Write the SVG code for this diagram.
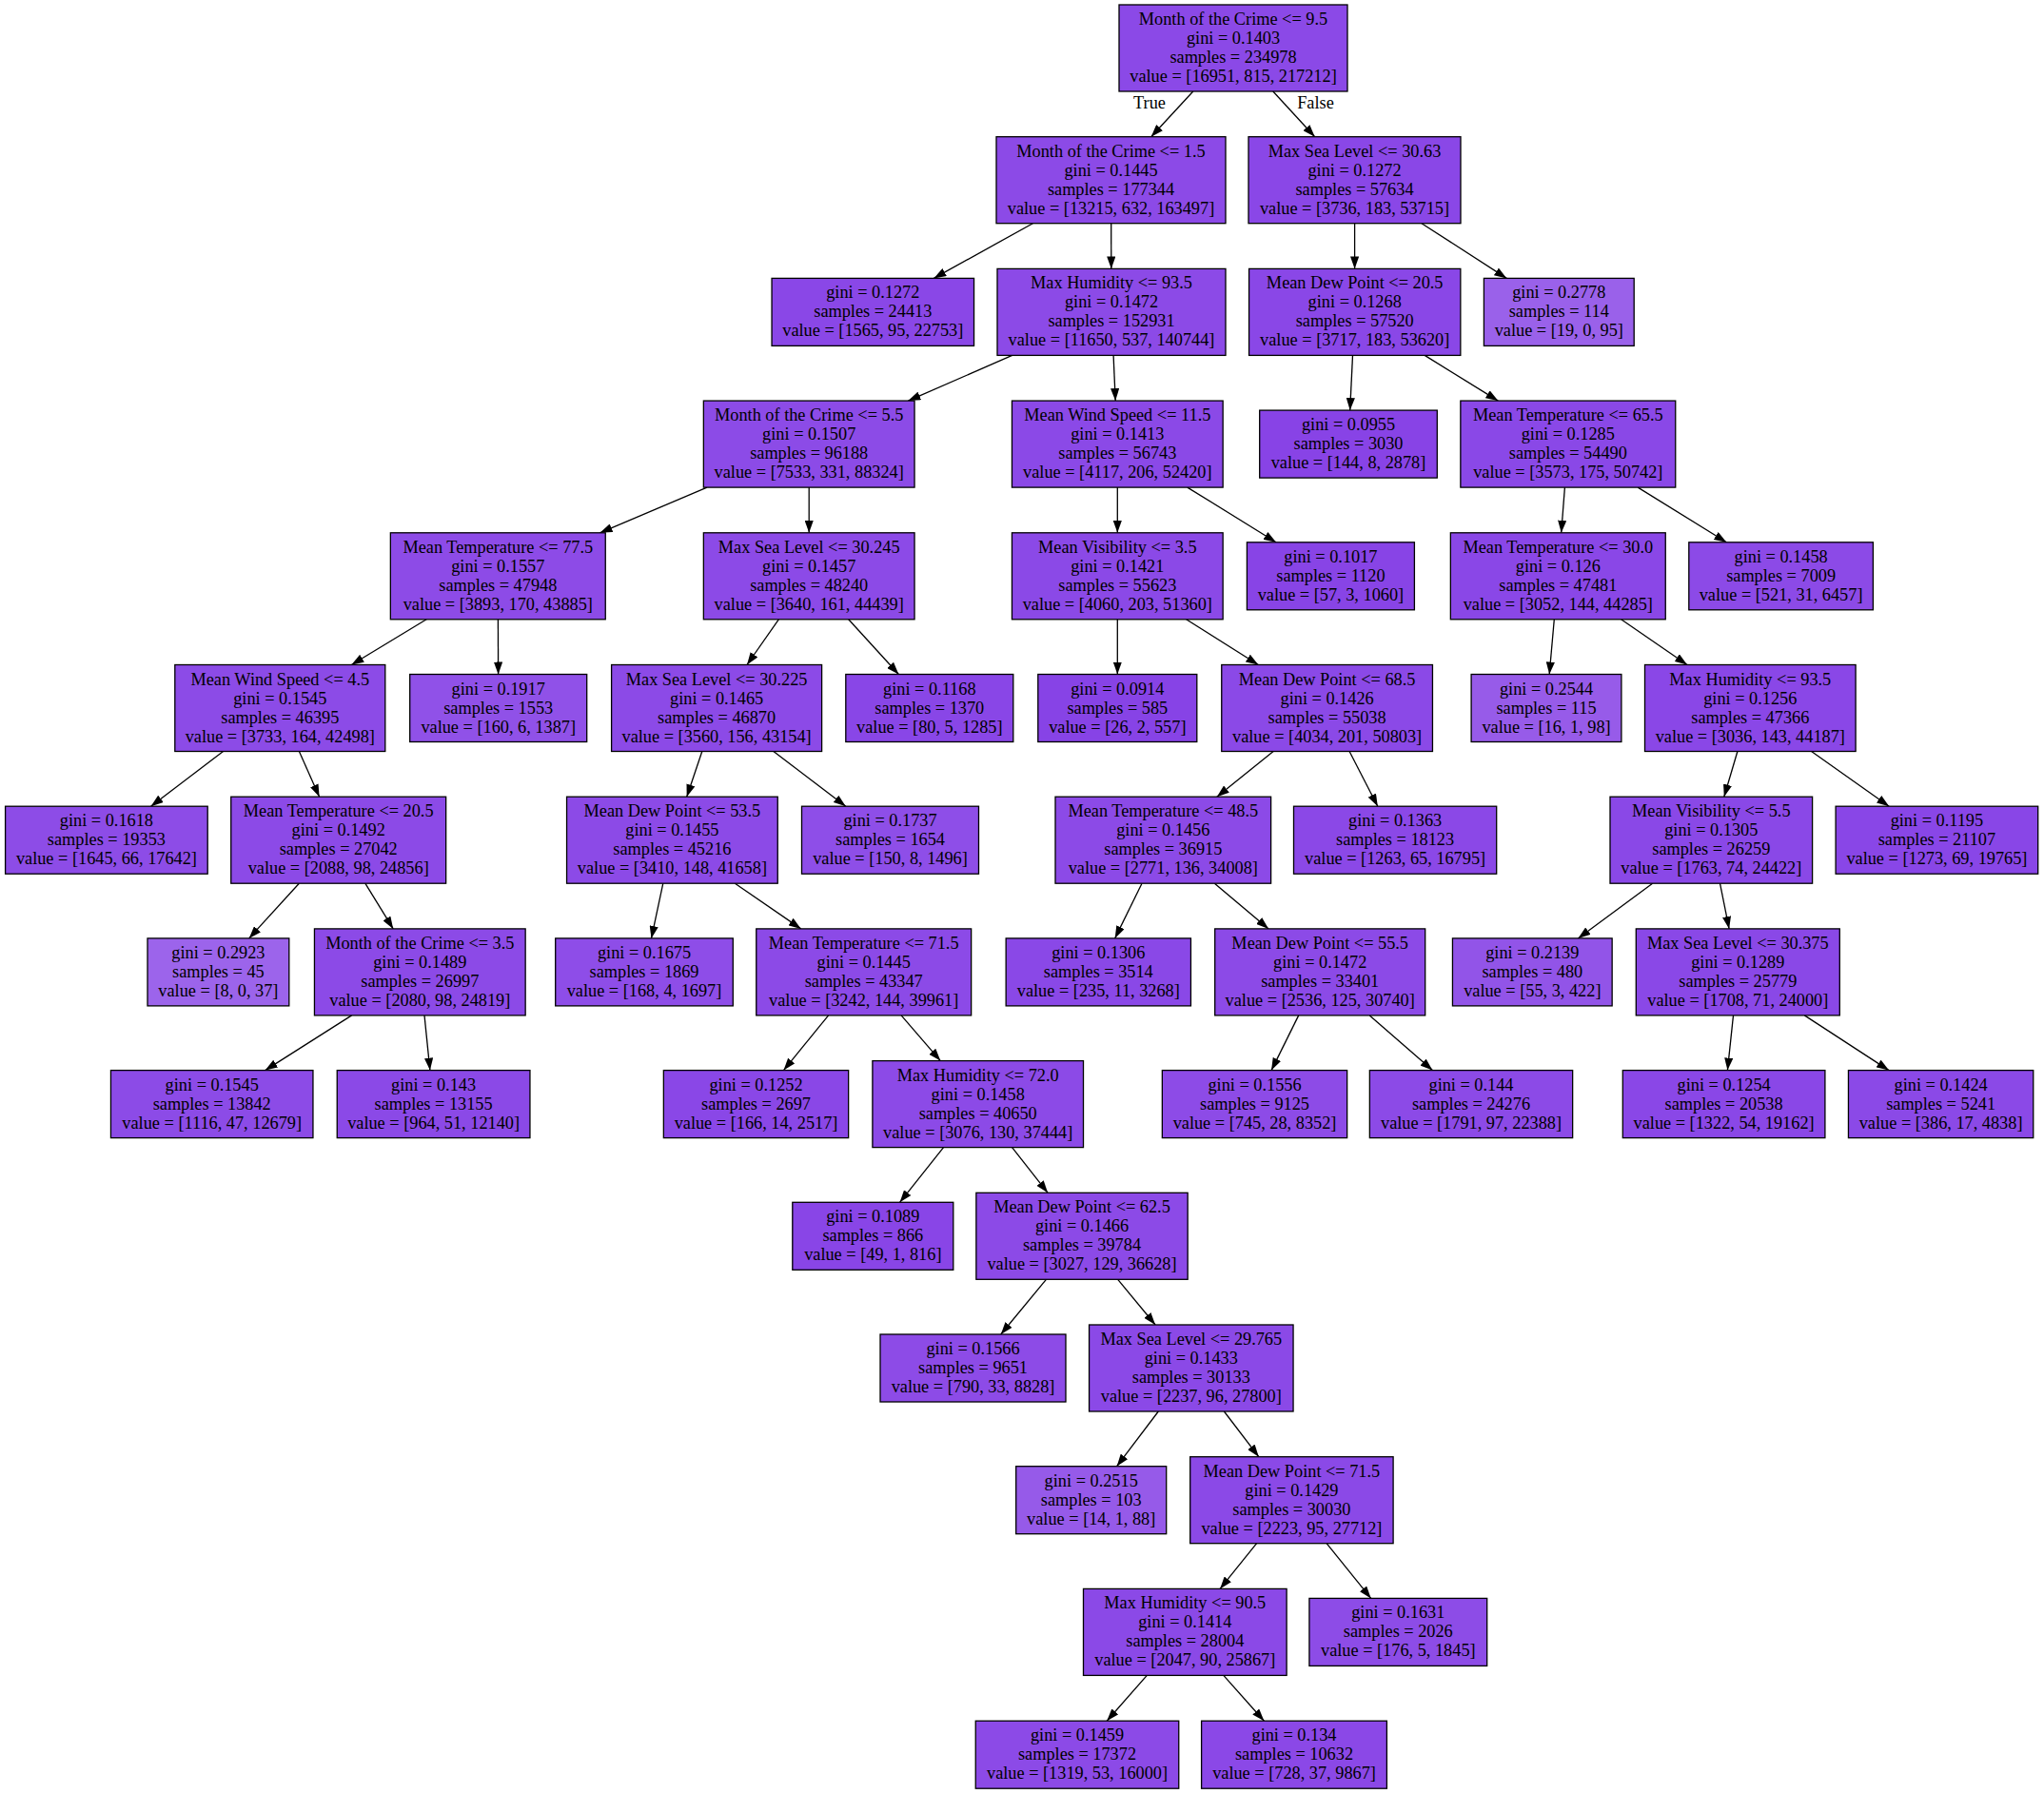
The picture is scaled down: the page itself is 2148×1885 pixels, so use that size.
<svg xmlns="http://www.w3.org/2000/svg" width="2148" height="1885" viewBox="0 0 2148 1885">
<defs>
<marker id="ah" viewBox="0 0 13 9.2" refX="13" refY="4.6" markerWidth="13" markerHeight="9.2" markerUnits="userSpaceOnUse" orient="auto"><path d="M0,0 L13,4.6 L0,9.2 z" fill="#000"/></marker>
<style>
text{font-family:"Liberation Serif","Times New Roman",serif;font-size:18.3px;fill:#000;text-anchor:middle}
rect{stroke:#000;stroke-width:1.3}
.e line{stroke:#000;stroke-width:1.3;marker-end:url(#ah)}
</style>
</defs>
<rect x="0" y="0" width="2148" height="1885" fill="#fff" style="stroke:none"/>
<g class="e" id="edges">
<line x1="1253.8" y1="96" x2="1209.7" y2="143.7"/>
<line x1="1337.8" y1="96" x2="1381.7" y2="143.7"/>
<line x1="1085.4" y1="234.7" x2="981.3" y2="292.4"/>
<line x1="1167.7" y1="234.7" x2="1167.8" y2="282.4"/>
<line x1="1423.6" y1="234.7" x2="1423.6" y2="282.4"/>
<line x1="1494.0" y1="234.7" x2="1583.3" y2="292.4"/>
<line x1="1063.7" y1="373.4" x2="954.4" y2="421.1"/>
<line x1="1170.1" y1="373.4" x2="1172.2" y2="421.1"/>
<line x1="1421.5" y1="373.4" x2="1418.7" y2="431.1"/>
<line x1="1497.2" y1="373.4" x2="1574.3" y2="421.1"/>
<line x1="743.0" y1="512.1" x2="630.5" y2="559.8"/>
<line x1="850.2" y1="512.1" x2="850.2" y2="559.8"/>
<line x1="1174.3" y1="512.1" x2="1174.3" y2="559.8"/>
<line x1="1247.8" y1="512.1" x2="1341.0" y2="569.8"/>
<line x1="1644.4" y1="512.1" x2="1640.7" y2="559.8"/>
<line x1="1721.2" y1="512.1" x2="1814.3" y2="569.8"/>
<line x1="448.2" y1="650.8" x2="369.4" y2="698.5"/>
<line x1="523.4" y1="650.8" x2="523.6" y2="708.5"/>
<line x1="818.3" y1="650.8" x2="785.0" y2="698.5"/>
<line x1="891.7" y1="650.8" x2="944.4" y2="708.5"/>
<line x1="1174.3" y1="650.8" x2="1174.3" y2="708.5"/>
<line x1="1246.6" y1="650.8" x2="1322.3" y2="698.5"/>
<line x1="1633.3" y1="650.8" x2="1628.2" y2="708.5"/>
<line x1="1703.6" y1="650.8" x2="1773.0" y2="698.5"/>
<line x1="234.5" y1="789.5" x2="158.6" y2="847.2"/>
<line x1="314.4" y1="789.5" x2="335.6" y2="837.2"/>
<line x1="737.8" y1="789.5" x2="721.7" y2="837.2"/>
<line x1="812.9" y1="789.5" x2="888.8" y2="847.2"/>
<line x1="1338.1" y1="789.5" x2="1278.8" y2="837.2"/>
<line x1="1418.1" y1="789.5" x2="1447.8" y2="847.2"/>
<line x1="1825.9" y1="789.5" x2="1811.8" y2="837.2"/>
<line x1="1903.6" y1="789.5" x2="1985.2" y2="847.2"/>
<line x1="314.3" y1="928.2" x2="261.7" y2="985.9"/>
<line x1="383.8" y1="928.2" x2="413.2" y2="975.9"/>
<line x1="696.8" y1="928.2" x2="684.5" y2="985.9"/>
<line x1="772.4" y1="928.2" x2="841.7" y2="975.9"/>
<line x1="1200.0" y1="928.2" x2="1171.7" y2="985.9"/>
<line x1="1276.4" y1="928.2" x2="1333.1" y2="975.9"/>
<line x1="1736.6" y1="928.2" x2="1658.4" y2="985.9"/>
<line x1="1807.5" y1="928.2" x2="1817.1" y2="975.9"/>
<line x1="369.6" y1="1066.9" x2="278.7" y2="1124.6"/>
<line x1="446.0" y1="1066.9" x2="451.9" y2="1124.6"/>
<line x1="870.6" y1="1066.9" x2="823.5" y2="1124.6"/>
<line x1="947.1" y1="1066.9" x2="988.3" y2="1114.6"/>
<line x1="1364.7" y1="1066.9" x2="1336.1" y2="1124.6"/>
<line x1="1439.3" y1="1066.9" x2="1505.4" y2="1124.6"/>
<line x1="1821.5" y1="1066.9" x2="1815.4" y2="1124.6"/>
<line x1="1896.3" y1="1066.9" x2="1985.0" y2="1124.6"/>
<line x1="991.5" y1="1205.6" x2="945.6" y2="1263.3"/>
<line x1="1063.6" y1="1205.6" x2="1101.1" y2="1253.3"/>
<line x1="1099.4" y1="1344.3" x2="1051.8" y2="1402"/>
<line x1="1174.7" y1="1344.3" x2="1214.1" y2="1392"/>
<line x1="1217.3" y1="1483" x2="1173.6" y2="1540.7"/>
<line x1="1286.4" y1="1483" x2="1322.8" y2="1530.7"/>
<line x1="1320.6" y1="1621.7" x2="1282.1" y2="1669.4"/>
<line x1="1394.1" y1="1621.7" x2="1440.7" y2="1679.4"/>
<line x1="1205.3" y1="1760.4" x2="1163.2" y2="1808.2"/>
<line x1="1285.8" y1="1760.4" x2="1328.4" y2="1808.2"/>
<text x="1208" y="114">True</text>
<text x="1382.5" y="114">False</text>
</g>
<g id="n0" transform="translate(1296,50.5)"><rect x="-120" y="-45.5" width="240" height="91" fill="#8b49e7"/><text y="-24.5">Month of the Crime &lt;= 9.5</text><text y="-4.5">gini = 0.1403</text><text y="15.5">samples = 234978</text><text y="35.5">value = [16951, 815, 217212]</text></g>
<g id="n1" transform="translate(1167.5,189.2)"><rect x="-120.5" y="-45.5" width="241" height="91" fill="#8c4ae7"/><text y="-24.5">Month of the Crime &lt;= 1.5</text><text y="-4.5">gini = 0.1445</text><text y="15.5">samples = 177344</text><text y="35.5">value = [13215, 632, 163497]</text></g>
<g id="n2" transform="translate(1423.5,189.2)"><rect x="-111.5" y="-45.5" width="223" height="91" fill="#8a47e7"/><text y="-24.5">Max Sea Level &lt;= 30.63</text><text y="-4.5">gini = 0.1272</text><text y="15.5">samples = 57634</text><text y="35.5">value = [3736, 183, 53715]</text></g>
<g id="n3" transform="translate(917.3,327.9)"><rect x="-106.25" y="-35.5" width="212.5" height="71" fill="#8a47e7"/><text y="-14.5">gini = 0.1272</text><text y="5.5">samples = 24413</text><text y="25.5">value = [1565, 95, 22753]</text></g>
<g id="n4" transform="translate(1168,327.9)"><rect x="-120" y="-45.5" width="240" height="91" fill="#8c4ae7"/><text y="-24.5">Max Humidity &lt;= 93.5</text><text y="-4.5">gini = 0.1472</text><text y="15.5">samples = 152931</text><text y="35.5">value = [11650, 537, 140744]</text></g>
<g id="n5" transform="translate(1423.7,327.9)"><rect x="-111.15" y="-45.5" width="222.3" height="91" fill="#8a47e7"/><text y="-24.5">Mean Dew Point &lt;= 20.5</text><text y="-4.5">gini = 0.1268</text><text y="15.5">samples = 57520</text><text y="35.5">value = [3717, 183, 53620]</text></g>
<g id="n6" transform="translate(1638.3,327.9)"><rect x="-78.9" y="-35.5" width="157.8" height="71" fill="#9a61ea"/><text y="-14.5">gini = 0.2778</text><text y="5.5">samples = 114</text><text y="25.5">value = [19, 0, 95]</text></g>
<g id="n7" transform="translate(850.2,466.6)"><rect x="-110.85" y="-45.5" width="221.7" height="91" fill="#8c4be7"/><text y="-24.5">Month of the Crime &lt;= 5.5</text><text y="-4.5">gini = 0.1507</text><text y="15.5">samples = 96188</text><text y="35.5">value = [7533, 331, 88324]</text></g>
<g id="n8" transform="translate(1174.3,466.6)"><rect x="-110.85" y="-45.5" width="221.7" height="91" fill="#8b49e7"/><text y="-24.5">Mean Wind Speed &lt;= 11.5</text><text y="-4.5">gini = 0.1413</text><text y="15.5">samples = 56743</text><text y="35.5">value = [4117, 206, 52420]</text></g>
<g id="n9" transform="translate(1417,466.6)"><rect x="-93.3" y="-35.5" width="186.6" height="71" fill="#8843e6"/><text y="-14.5">gini = 0.0955</text><text y="5.5">samples = 3030</text><text y="25.5">value = [144, 8, 2878]</text></g>
<g id="n10" transform="translate(1647.8,466.6)"><rect x="-112.95" y="-45.5" width="225.9" height="91" fill="#8a48e7"/><text y="-24.5">Mean Temperature &lt;= 65.5</text><text y="-4.5">gini = 0.1285</text><text y="15.5">samples = 54490</text><text y="35.5">value = [3573, 175, 50742]</text></g>
<g id="n11" transform="translate(523.3,605.3)"><rect x="-112.95" y="-45.5" width="225.9" height="91" fill="#8d4be7"/><text y="-24.5">Mean Temperature &lt;= 77.5</text><text y="-4.5">gini = 0.1557</text><text y="15.5">samples = 47948</text><text y="35.5">value = [3893, 170, 43885]</text></g>
<g id="n12" transform="translate(850.2,605.3)"><rect x="-110.85" y="-45.5" width="221.7" height="91" fill="#8c4ae7"/><text y="-24.5">Max Sea Level &lt;= 30.245</text><text y="-4.5">gini = 0.1457</text><text y="15.5">samples = 48240</text><text y="35.5">value = [3640, 161, 44439]</text></g>
<g id="n13" transform="translate(1174.3,605.3)"><rect x="-110.85" y="-45.5" width="221.7" height="91" fill="#8b49e7"/><text y="-24.5">Mean Visibility &lt;= 3.5</text><text y="-4.5">gini = 0.1421</text><text y="15.5">samples = 55623</text><text y="35.5">value = [4060, 203, 51360]</text></g>
<g id="n14" transform="translate(1398.4,605.3)"><rect x="-88" y="-35.5" width="176" height="71" fill="#8844e6"/><text y="-14.5">gini = 0.1017</text><text y="5.5">samples = 1120</text><text y="25.5">value = [57, 3, 1060]</text></g>
<g id="n15" transform="translate(1637.3,605.3)"><rect x="-112.95" y="-45.5" width="225.9" height="91" fill="#8a47e7"/><text y="-24.5">Mean Temperature &lt;= 30.0</text><text y="-4.5">gini = 0.126</text><text y="15.5">samples = 47481</text><text y="35.5">value = [3052, 144, 44285]</text></g>
<g id="n16" transform="translate(1871.6,605.3)"><rect x="-96.8" y="-35.5" width="193.6" height="71" fill="#8c4ae7"/><text y="-14.5">gini = 0.1458</text><text y="5.5">samples = 7009</text><text y="25.5">value = [521, 31, 6457]</text></g>
<g id="n17" transform="translate(294.3,744)"><rect x="-110.5" y="-45.5" width="221" height="91" fill="#8c4be7"/><text y="-24.5">Mean Wind Speed &lt;= 4.5</text><text y="-4.5">gini = 0.1545</text><text y="15.5">samples = 46395</text><text y="35.5">value = [3733, 164, 42498]</text></g>
<g id="n18" transform="translate(523.7,744)"><rect x="-93" y="-35.5" width="186" height="71" fill="#9051e8"/><text y="-14.5">gini = 0.1917</text><text y="5.5">samples = 1553</text><text y="25.5">value = [160, 6, 1387]</text></g>
<g id="n19" transform="translate(753.1,744)"><rect x="-110.5" y="-45.5" width="221" height="91" fill="#8c4ae7"/><text y="-24.5">Max Sea Level &lt;= 30.225</text><text y="-4.5">gini = 0.1465</text><text y="15.5">samples = 46870</text><text y="35.5">value = [3560, 156, 43154]</text></g>
<g id="n20" transform="translate(976.8,744)"><rect x="-88" y="-35.5" width="176" height="71" fill="#8946e7"/><text y="-14.5">gini = 0.1168</text><text y="5.5">samples = 1370</text><text y="25.5">value = [80, 5, 1285]</text></g>
<g id="n21" transform="translate(1174.3,744)"><rect x="-83.5" y="-35.5" width="167" height="71" fill="#8743e6"/><text y="-14.5">gini = 0.0914</text><text y="5.5">samples = 585</text><text y="25.5">value = [26, 2, 557]</text></g>
<g id="n22" transform="translate(1394.6,744)"><rect x="-110.85" y="-45.5" width="221.7" height="91" fill="#8b49e7"/><text y="-24.5">Mean Dew Point &lt;= 68.5</text><text y="-4.5">gini = 0.1426</text><text y="15.5">samples = 55038</text><text y="35.5">value = [4034, 201, 50803]</text></g>
<g id="n23" transform="translate(1625,744)"><rect x="-78.9" y="-35.5" width="157.8" height="71" fill="#975be9"/><text y="-14.5">gini = 0.2544</text><text y="5.5">samples = 115</text><text y="25.5">value = [16, 1, 98]</text></g>
<g id="n24" transform="translate(1839.3,744)"><rect x="-110.8" y="-45.5" width="221.6" height="91" fill="#8a47e7"/><text y="-24.5">Max Humidity &lt;= 93.5</text><text y="-4.5">gini = 0.1256</text><text y="15.5">samples = 47366</text><text y="35.5">value = [3036, 143, 44187]</text></g>
<g id="n25" transform="translate(111.9,882.7)"><rect x="-106.3" y="-35.5" width="212.6" height="71" fill="#8d4ce7"/><text y="-14.5">gini = 0.1618</text><text y="5.5">samples = 19353</text><text y="25.5">value = [1645, 66, 17642]</text></g>
<g id="n26" transform="translate(355.7,882.7)"><rect x="-112.95" y="-45.5" width="225.9" height="91" fill="#8c4ae7"/><text y="-24.5">Mean Temperature &lt;= 20.5</text><text y="-4.5">gini = 0.1492</text><text y="15.5">samples = 27042</text><text y="35.5">value = [2088, 98, 24856]</text></g>
<g id="n27" transform="translate(706.4,882.7)"><rect x="-110.85" y="-45.5" width="221.7" height="91" fill="#8c4ae7"/><text y="-24.5">Mean Dew Point &lt;= 53.5</text><text y="-4.5">gini = 0.1455</text><text y="15.5">samples = 45216</text><text y="35.5">value = [3410, 148, 41658]</text></g>
<g id="n28" transform="translate(935.5,882.7)"><rect x="-93" y="-35.5" width="186" height="71" fill="#8e4ee8"/><text y="-14.5">gini = 0.1737</text><text y="5.5">samples = 1654</text><text y="25.5">value = [150, 8, 1496]</text></g>
<g id="n29" transform="translate(1222.3,882.7)"><rect x="-113.3" y="-45.5" width="226.6" height="91" fill="#8c4ae7"/><text y="-24.5">Mean Temperature &lt;= 48.5</text><text y="-4.5">gini = 0.1456</text><text y="15.5">samples = 36915</text><text y="35.5">value = [2771, 136, 34008]</text></g>
<g id="n30" transform="translate(1466.1,882.7)"><rect x="-106.6" y="-35.5" width="213.2" height="71" fill="#8b48e7"/><text y="-14.5">gini = 0.1363</text><text y="5.5">samples = 18123</text><text y="25.5">value = [1263, 65, 16795]</text></g>
<g id="n31" transform="translate(1798.3,882.7)"><rect x="-106.3" y="-45.5" width="212.6" height="91" fill="#8a48e7"/><text y="-24.5">Mean Visibility &lt;= 5.5</text><text y="-4.5">gini = 0.1305</text><text y="15.5">samples = 26259</text><text y="35.5">value = [1763, 74, 24422]</text></g>
<g id="n32" transform="translate(2035.4,882.7)"><rect x="-106.3" y="-35.5" width="212.6" height="71" fill="#8946e7"/><text y="-14.5">gini = 0.1195</text><text y="5.5">samples = 21107</text><text y="25.5">value = [1273, 69, 19765]</text></g>
<g id="n33" transform="translate(229.4,1021.4)"><rect x="-74.4" y="-35.5" width="148.8" height="71" fill="#9c64eb"/><text y="-14.5">gini = 0.2923</text><text y="5.5">samples = 45</text><text y="25.5">value = [8, 0, 37]</text></g>
<g id="n34" transform="translate(441.3,1021.4)"><rect x="-110.85" y="-45.5" width="221.7" height="91" fill="#8c4ae7"/><text y="-24.5">Month of the Crime &lt;= 3.5</text><text y="-4.5">gini = 0.1489</text><text y="15.5">samples = 26997</text><text y="35.5">value = [2080, 98, 24819]</text></g>
<g id="n35" transform="translate(677,1021.4)"><rect x="-93.3" y="-35.5" width="186.6" height="71" fill="#8e4de8"/><text y="-14.5">gini = 0.1675</text><text y="5.5">samples = 1869</text><text y="25.5">value = [168, 4, 1697]</text></g>
<g id="n36" transform="translate(907.7,1021.4)"><rect x="-112.95" y="-45.5" width="225.9" height="91" fill="#8c4ae7"/><text y="-24.5">Mean Temperature &lt;= 71.5</text><text y="-4.5">gini = 0.1445</text><text y="15.5">samples = 43347</text><text y="35.5">value = [3242, 144, 39961]</text></g>
<g id="n37" transform="translate(1154.3,1021.4)"><rect x="-97.15" y="-35.5" width="194.3" height="71" fill="#8a48e7"/><text y="-14.5">gini = 0.1306</text><text y="5.5">samples = 3514</text><text y="25.5">value = [235, 11, 3268]</text></g>
<g id="n38" transform="translate(1387.2,1021.4)"><rect x="-110.5" y="-45.5" width="221" height="91" fill="#8c4ae7"/><text y="-24.5">Mean Dew Point &lt;= 55.5</text><text y="-4.5">gini = 0.1472</text><text y="15.5">samples = 33401</text><text y="35.5">value = [2536, 125, 30740]</text></g>
<g id="n39" transform="translate(1610.3,1021.4)"><rect x="-83.85" y="-35.5" width="167.7" height="71" fill="#9254e8"/><text y="-14.5">gini = 0.2139</text><text y="5.5">samples = 480</text><text y="25.5">value = [55, 3, 422]</text></g>
<g id="n40" transform="translate(1826.3,1021.4)"><rect x="-107" y="-45.5" width="214" height="91" fill="#8a48e7"/><text y="-24.5">Max Sea Level &lt;= 30.375</text><text y="-4.5">gini = 0.1289</text><text y="15.5">samples = 25779</text><text y="35.5">value = [1708, 71, 24000]</text></g>
<g id="n41" transform="translate(222.7,1160.1)"><rect x="-106.25" y="-35.5" width="212.5" height="71" fill="#8c4be7"/><text y="-14.5">gini = 0.1545</text><text y="5.5">samples = 13842</text><text y="25.5">value = [1116, 47, 12679]</text></g>
<g id="n42" transform="translate(455.6,1160.1)"><rect x="-101.35" y="-35.5" width="202.7" height="71" fill="#8b49e7"/><text y="-14.5">gini = 0.143</text><text y="5.5">samples = 13155</text><text y="25.5">value = [964, 51, 12140]</text></g>
<g id="n43" transform="translate(794.5,1160.1)"><rect x="-97.15" y="-35.5" width="194.3" height="71" fill="#8a47e7"/><text y="-14.5">gini = 0.1252</text><text y="5.5">samples = 2697</text><text y="25.5">value = [166, 14, 2517]</text></g>
<g id="n44" transform="translate(1027.7,1160.1)"><rect x="-110.8" y="-45.5" width="221.6" height="91" fill="#8c4ae7"/><text y="-24.5">Max Humidity &lt;= 72.0</text><text y="-4.5">gini = 0.1458</text><text y="15.5">samples = 40650</text><text y="35.5">value = [3076, 130, 37444]</text></g>
<g id="n45" transform="translate(1318.5,1160.1)"><rect x="-97.15" y="-35.5" width="194.3" height="71" fill="#8d4be7"/><text y="-14.5">gini = 0.1556</text><text y="5.5">samples = 9125</text><text y="25.5">value = [745, 28, 8352]</text></g>
<g id="n46" transform="translate(1546,1160.1)"><rect x="-106.65" y="-35.5" width="213.3" height="71" fill="#8c4ae7"/><text y="-14.5">gini = 0.144</text><text y="5.5">samples = 24276</text><text y="25.5">value = [1791, 97, 22388]</text></g>
<g id="n47" transform="translate(1811.6,1160.1)"><rect x="-106.3" y="-35.5" width="212.6" height="71" fill="#8a47e7"/><text y="-14.5">gini = 0.1254</text><text y="5.5">samples = 20538</text><text y="25.5">value = [1322, 54, 19162]</text></g>
<g id="n48" transform="translate(2039.6,1160.1)"><rect x="-97.15" y="-35.5" width="194.3" height="71" fill="#8b49e7"/><text y="-14.5">gini = 0.1424</text><text y="5.5">samples = 5241</text><text y="25.5">value = [386, 17, 4838]</text></g>
<g id="n49" transform="translate(917.3,1298.8)"><rect x="-84.5" y="-35.5" width="169" height="71" fill="#8945e7"/><text y="-14.5">gini = 0.1089</text><text y="5.5">samples = 866</text><text y="25.5">value = [49, 1, 816]</text></g>
<g id="n50" transform="translate(1137,1298.8)"><rect x="-111.15" y="-45.5" width="222.3" height="91" fill="#8c4ae7"/><text y="-24.5">Mean Dew Point &lt;= 62.5</text><text y="-4.5">gini = 0.1466</text><text y="15.5">samples = 39784</text><text y="35.5">value = [3027, 129, 36628]</text></g>
<g id="n51" transform="translate(1022.5,1437.5)"><rect x="-97.5" y="-35.5" width="195" height="71" fill="#8d4be7"/><text y="-14.5">gini = 0.1566</text><text y="5.5">samples = 9651</text><text y="25.5">value = [790, 33, 8828]</text></g>
<g id="n52" transform="translate(1251.8,1437.5)"><rect x="-107.25" y="-45.5" width="214.5" height="91" fill="#8b49e7"/><text y="-24.5">Max Sea Level &lt;= 29.765</text><text y="-4.5">gini = 0.1433</text><text y="15.5">samples = 30133</text><text y="35.5">value = [2237, 96, 27800]</text></g>
<g id="n53" transform="translate(1146.7,1576.2)"><rect x="-79" y="-35.5" width="158" height="71" fill="#965ae9"/><text y="-14.5">gini = 0.2515</text><text y="5.5">samples = 103</text><text y="25.5">value = [14, 1, 88]</text></g>
<g id="n54" transform="translate(1357.4,1576.2)"><rect x="-106.7" y="-45.5" width="213.4" height="91" fill="#8b49e7"/><text y="-24.5">Mean Dew Point &lt;= 71.5</text><text y="-4.5">gini = 0.1429</text><text y="15.5">samples = 30030</text><text y="35.5">value = [2223, 95, 27712]</text></g>
<g id="n55" transform="translate(1245.3,1714.9)"><rect x="-106.8" y="-45.5" width="213.6" height="91" fill="#8b49e7"/><text y="-24.5">Max Humidity &lt;= 90.5</text><text y="-4.5">gini = 0.1414</text><text y="15.5">samples = 28004</text><text y="35.5">value = [2047, 90, 25867]</text></g>
<g id="n56" transform="translate(1469.3,1714.9)"><rect x="-93.4" y="-35.5" width="186.8" height="71" fill="#8d4ce7"/><text y="-14.5">gini = 0.1631</text><text y="5.5">samples = 2026</text><text y="25.5">value = [176, 5, 1845]</text></g>
<g id="n57" transform="translate(1132,1843.7)"><rect x="-106.75" y="-35.5" width="213.5" height="71" fill="#8c4ae7"/><text y="-14.5">gini = 0.1459</text><text y="5.5">samples = 17372</text><text y="25.5">value = [1319, 53, 16000]</text></g>
<g id="n58" transform="translate(1360,1843.7)"><rect x="-97.4" y="-35.5" width="194.8" height="71" fill="#8b48e7"/><text y="-14.5">gini = 0.134</text><text y="5.5">samples = 10632</text><text y="25.5">value = [728, 37, 9867]</text></g>
</svg>
